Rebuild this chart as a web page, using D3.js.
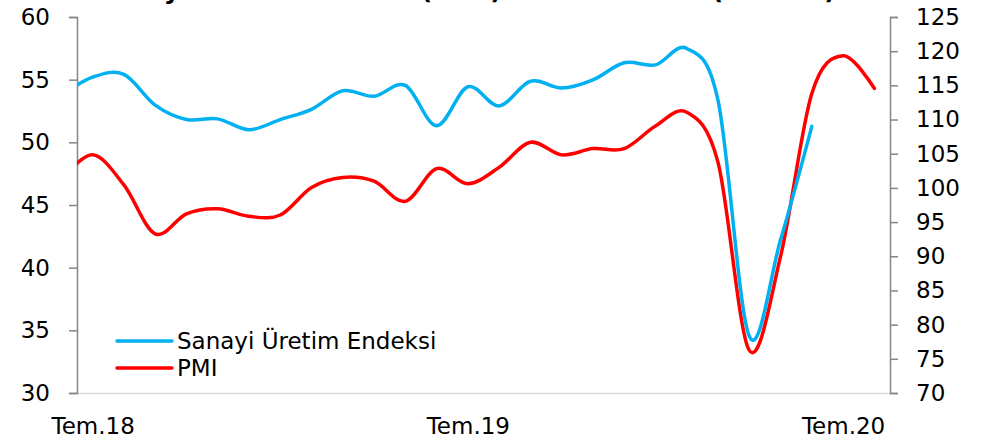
<!DOCTYPE html>
<html>
<head>
<meta charset="utf-8">
<script src="https://cdn.jsdelivr.net/npm/d3@7"></script>
<style>
  body { margin: 0; background: #fff; }
  svg text { font-family: "Century Gothic", "DejaVu Sans", sans-serif; fill: #000; }
</style>
</head>
<body>
<div id="chart"></div>
<script>
// months from Haz.18 to Ağu.20
var months = ["Haz.18","Tem.18","Ağu.18","Eyl.18","Eki.18","Kas.18","Ara.18",
              "Oca.19","Şub.19","Mar.19","Nis.19","May.19","Haz.19","Tem.19",
              "Ağu.19","Eyl.19","Eki.19","Kas.19","Ara.19","Oca.20","Şub.20",
              "Mar.20","Nis.20","May.20","Haz.20","Tem.20","Ağu.20"];
// Sanayi Üretim Endeksi (right axis), Haz.18 - Haz.20
var sanayi = [113.5, 116.2, 116.6, 112.1, 110.0, 110.1, 108.5, 110.0, 111.5, 114.2,
              113.4, 115.0, 109.1, 114.8, 112.0, 115.6, 114.6, 115.8, 118.3, 118.0,
              120.4, 112.8, 78.3, 92.4, 109.0];
// PMI (left axis), Haz.18 - Ağu.20
var pmi = [47.0, 49.0, 46.6, 42.7, 44.3, 44.7, 44.1, 44.2, 46.4, 47.2,
           46.9, 45.3, 47.9, 46.7, 48.0, 50.0, 49.0, 49.5, 49.5, 51.3,
           52.4, 48.4, 33.4, 40.9, 53.9, 56.9, 54.3];
var xTickLabels = ["Tem.18", "Tem.19", "Tem.20"];
var leftTicks = [30, 35, 40, 45, 50, 55, 60];
var rightTicks = [70, 75, 80, 85, 90, 95, 100, 105, 110, 115, 120, 125];
var seriesNames = ["Sanayi Üretim Endeksi", "PMI"];

var w = 984, h = 441;
var plotL = 77, plotR = 890, plotT = 17, plotB = 393;

var svg = d3.select("#chart").append("svg")
    .attr("width", w)
    .attr("height", h);

var x = d3.scaleLinear().domain([0.5, months.length - 0.5]).range([plotL, plotR]);
var yL = d3.scaleLinear().domain([30, 60]).range([plotB, plotT]);
var yR = d3.scaleLinear().domain([70, 125]).range([plotB, plotT]);

// title (cut off at top in the original)
svg.append("text")
    .attr("x", 95)
    .attr("y", -1)
    .attr("font-size", "25px")
    .attr("font-weight", "bold")
    .text("Sanayi Üretim Endeksi (3AO) ve İmalat PMI (endeks)");

// x axis
var xAxis = svg.append("g")
    .attr("transform", "translate(0," + plotB + ")")
    .call(d3.axisBottom(x)
        .tickValues(xTickLabels.map(function(d) { return months.indexOf(d); }))
        .tickFormat(function(i) { return months[i]; })
        .tickSize(0)
        .tickPadding(25));
xAxis.select(".domain").attr("stroke", "#d9d9d9").attr("stroke-width", 1.5);
xAxis.selectAll("text").attr("font-size", "23px");

// left axis
var lAxis = svg.append("g")
    .attr("transform", "translate(" + plotL + ",0)")
    .call(d3.axisLeft(yL).tickValues(leftTicks).tickSize(8).tickPadding(19).tickSizeOuter(8));
lAxis.selectAll("path, line").attr("stroke", "#868686").attr("stroke-width", 1.5);
lAxis.selectAll("text").attr("font-size", "23px");

// right axis
var rAxis = svg.append("g")
    .attr("transform", "translate(" + plotR + ",0)")
    .call(d3.axisRight(yR).tickValues(rightTicks).tickSize(8).tickPadding(18).tickSizeOuter(8));
rAxis.selectAll("path, line").attr("stroke", "#868686").attr("stroke-width", 1.5);
rAxis.selectAll("text").attr("font-size", "23px");

svg.selectAll(".domain").attr("fill", "none");

// clip lines at the plot area
svg.append("clipPath").attr("id", "plot")
    .append("rect")
    .attr("x", plotL).attr("y", 0)
    .attr("width", plotR - plotL).attr("height", h);

var linePmi = d3.line()
    .x(function(d, i) { return x(i); })
    .y(function(d) { return yL(d); })
    .curve(d3.curveCardinal.tension(0));

var lineSanayi = d3.line()
    .x(function(d, i) { return x(i); })
    .y(function(d) { return yR(d); })
    .curve(d3.curveCardinal.tension(0));

svg.append("path")
    .datum(pmi)
    .attr("clip-path", "url(#plot)")
    .attr("d", linePmi)
    .attr("fill", "none")
    .attr("stroke", "#ff0000")
    .attr("stroke-width", 3.5)
    .attr("stroke-linecap", "round");

svg.append("path")
    .datum(sanayi)
    .attr("clip-path", "url(#plot)")
    .attr("d", lineSanayi)
    .attr("fill", "none")
    .attr("stroke", "#00b0f0")
    .attr("stroke-width", 3.5)
    .attr("stroke-linecap", "round");

// legend
var legend = svg.selectAll(".legend")
    .data(seriesNames)
    .enter()
    .append("g")
    .attr("class", "legend")
    .attr("transform", function(d, i) { return "translate(117," + (341 + i * 27) + ")"; });
legend.append("line")
    .attr("x1", 0).attr("x2", 55)
    .attr("y1", 0).attr("y2", 0)
    .attr("stroke", function(d, i) { return i === 0 ? "#00b0f0" : "#ff0000"; })
    .attr("stroke-width", 3.5)
    .attr("stroke-linecap", "round");
legend.append("text")
    .attr("x", 60)
    .attr("y", 8)
    .attr("font-size", "23px")
    .text(function(d) { return d; });
</script>
</body>
</html>
